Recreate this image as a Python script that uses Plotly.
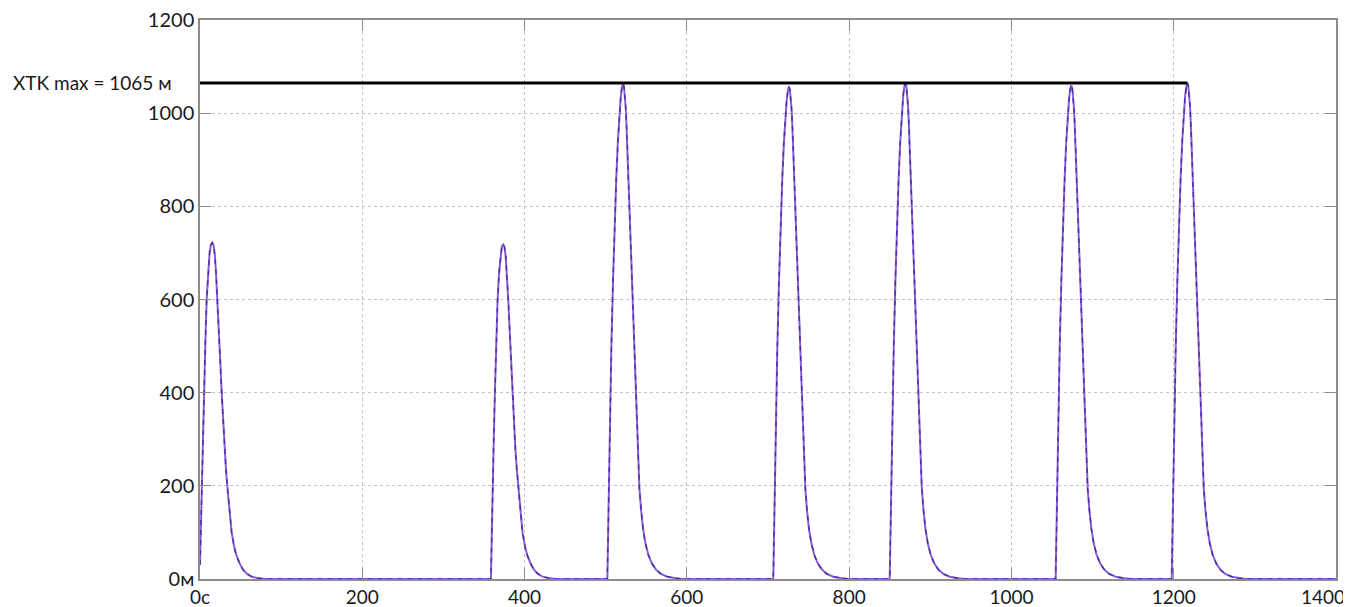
import plotly.graph_objects as go

# ---- data (time in s, cross-track error in m) ----
peak1_t = [0, 1, 2.1, 3.5, 4.9, 6.5, 8.2, 10, 11.8, 13.5, 15.2, 16.8, 18.3, 19.8, 21.5, 23.2, 25, 26.7,
           28.5, 30.2, 32, 33.6, 35.5, 37.3, 39, 42, 45, 49, 53, 58, 63.6, 71, 80]
peak1_v = [30, 110, 200, 300, 400, 500, 600, 660, 700, 718, 722, 716, 695, 655, 600, 535, 465, 400,
           335, 280, 235, 200, 163, 130, 100, 70, 50, 33, 20, 11, 5, 2, 0]

peak2_t = [358.5, 359.5, 360.6, 362, 363.4, 365, 366.7, 368.5, 370.3, 372, 373.7, 375.3, 376.8, 378.3,
           380, 381.7, 383.5, 385.2, 387, 388.7, 390.5, 392.1, 394, 395.8, 397.5, 400.5, 403.5, 407.5,
           411.5, 416.5, 422.1, 429.5, 438.5]
peak2_v = [0, 105, 198, 298, 398, 497, 596, 656, 696, 714, 718, 712, 691, 651, 596, 532, 462, 398, 333,
           278, 234, 199, 162, 129, 99, 70, 50, 33, 20, 11, 5, 2, 0]

peak3_t = [502, 503, 504, 505.5, 507, 509, 511, 513, 515, 517, 518.5, 520, 521.3, 522.5, 523.5, 524.5,
           525.5, 526.7, 528, 529.5, 531, 532.5, 534, 535.5, 537, 538.5, 540, 541.5, 543.5, 546, 549,
           552.5, 557, 562, 568, 576, 585, 594]
peak3_v = [0, 120, 240, 380, 500, 640, 760, 860, 940, 1000, 1034, 1056, 1063, 1057, 1042, 1016, 980, 920,
           850, 770, 690, 610, 530, 450, 375, 305, 245, 195, 150, 108, 76, 52, 33, 20, 11, 5, 2, 0]

peak4_t = [706.5, 707.5, 708.5, 710, 711.5, 713.5, 715.5, 717.5, 719.5, 721.5, 723, 724.5, 725.8, 727,
           728, 729, 730, 731.2, 732.5, 734, 735.5, 737, 738.5, 740, 741.5, 743, 744.5, 746, 748, 750.5,
           753.5, 757, 761.5, 766.5, 772.5, 780.5, 789.5, 798.5]
peak4_v = [0, 119, 238, 378, 497, 636, 755, 855, 934, 994, 1027, 1049, 1057, 1050, 1035, 1010, 974, 914,
           845, 765, 686, 606, 527, 447, 373, 303, 243, 194, 149, 107, 76, 52, 33, 20, 11, 5, 2, 0]

peak5_t = [850, 851, 852, 853.5, 855, 857, 859, 861, 863, 865, 866.5, 868, 869.3, 870.5, 871.5, 872.5,
           873.5, 874.7, 876, 877.5, 879, 880.5, 882, 883.5, 885, 886.5, 888, 889.5, 891.5, 894, 897,
           900.5, 905, 910, 916, 924, 933, 942]
peak5_v = [0, 120, 240, 380, 500, 640, 760, 860, 940, 1000, 1035, 1057, 1065, 1058, 1043, 1017, 981, 921,
           851, 771, 691, 611, 531, 451, 376, 306, 246, 196, 150, 108, 76, 52, 33, 20, 11, 5, 2, 0]

peak6_t = [1054.5, 1055.5, 1056.5, 1058, 1059.5, 1061.5, 1063.5, 1065.5, 1067.5, 1069.5, 1071, 1072.5,
           1073.8, 1075, 1076, 1077, 1078, 1079.2, 1080.5, 1082, 1083.5, 1085, 1086.5, 1088, 1089.5,
           1091, 1092.5, 1094, 1096, 1098.5, 1101.5, 1105, 1109.5, 1114.5, 1120.5, 1128.5, 1137.5, 1146.5]
peak6_v = [0, 120, 239, 379, 498, 638, 757, 857, 937, 996, 1030, 1052, 1060, 1053, 1038, 1012, 976, 917,
           847, 767, 687, 608, 528, 448, 374, 304, 244, 194, 149, 108, 76, 52, 33, 20, 11, 5, 2, 0]

peak7_t = [1197.5, 1198.5, 1199.5, 1201, 1202.5, 1204.5, 1206.5, 1208.5, 1210.5, 1212.5, 1214, 1215.5,
           1216.8, 1218, 1219, 1220, 1221, 1222.2, 1223.5, 1225, 1226.5, 1228, 1229.5, 1231, 1232.5,
           1234, 1235.5, 1237, 1239, 1241.5, 1244.5, 1248, 1252.5, 1257.5, 1263.5, 1271.5, 1280.5, 1289.5]
peak7_v = [0, 120, 240, 380, 500, 640, 760, 860, 940, 1000, 1035, 1057, 1065, 1058, 1043, 1017, 981, 921,
           851, 771, 691, 611, 531, 451, 376, 306, 246, 196, 150, 108, 76, 52, 33, 20, 11, 5, 2, 0]

tail_t = [1400]
tail_v = [0]

max_line_t = [0, 1216.8]
max_line_v = [1065, 1065]
max_label = "XTK max = 1065 м"

x_tickvals = [0, 200, 400, 600, 800, 1000, 1200, 1400]
x_ticktext = ["0с", "200", "400", "600", "800", "1000", "1200", "1400"]
y_tickvals = [0, 200, 400, 600, 800, 1000, 1200]
y_ticktext = ["0м", "200", "400", "600", "800", "1000", "1200"]

time_s = peak1_t + peak2_t + peak3_t + peak4_t + peak5_t + peak6_t + peak7_t + tail_t
xtk_m = peak1_v + peak2_v + peak3_v + peak4_v + peak5_v + peak6_v + peak7_v + tail_v

FONT = "Lato"
FS = 20
TXT = "#1a1a1a"
fig = go.Figure()
fig.add_trace(go.Scatter(x=time_s, y=xtk_m, mode="lines",
                         line=dict(color="#8c5cd8", width=2), hoverinfo="skip"))
fig.add_trace(go.Scatter(x=time_s, y=xtk_m, mode="lines",
                         line=dict(color="#3f2f96", width=1.3, dash="5px,5px")))
fig.add_trace(go.Scatter(x=max_line_t, y=max_line_v, mode="lines",
                         line=dict(color="black", width=3)))

fig.add_annotation(text=max_label, xref="paper", yref="y", x=0, y=max_line_v[0],
                   xanchor="right", yanchor="middle", xshift=-26, showarrow=False,
                   font=dict(family=FONT, size=19, color=TXT))

# last x label is pulled inside the page, as in the reference
x_ticktext_shown = x_ticktext[:-1] + [""]
fig.add_annotation(text=x_ticktext[-1], xref="x", yref="paper", x=x_tickvals[-1], y=0,
                   xanchor="right", yanchor="top", xshift=11, yshift=-4, showarrow=False,
                   font=dict(family=FONT, size=19, color=TXT))

axis_common = dict(showline=True, linecolor="#8c8c8c", linewidth=1.5, mirror="ticks",
                   ticks="inside", ticklen=11, tickcolor="#8c8c8c", tickwidth=1.2,
                   showgrid=True, gridcolor="#c4c4c4", griddash="dot", gridwidth=1,
                   zeroline=False, automargin=False, ticklabeloverflow="allow")

fig.update_xaxes(range=[0, 1400], tickvals=x_tickvals, ticktext=x_ticktext_shown,
                 tickfont=dict(family=FONT, size=19, color=TXT), **axis_common)
fig.update_yaxes(range=[0, 1200], tickvals=y_tickvals, ticktext=y_ticktext,
                 tickfont=dict(family=FONT, size=FS, color=TXT), **axis_common)

fig.update_layout(width=1343, height=607, showlegend=False,
                  margin=dict(l=192, r=15, t=12, b=36),
                  plot_bgcolor="white", paper_bgcolor="white")

fig.write_html("out.html")
